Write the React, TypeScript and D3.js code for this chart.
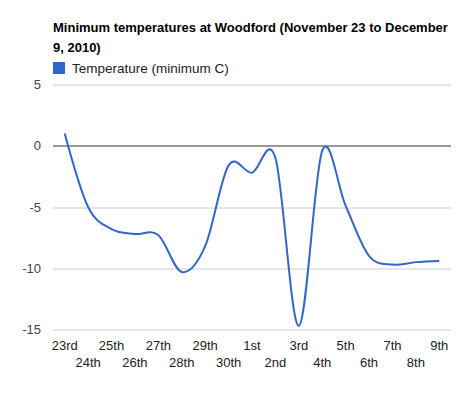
import React, { useEffect, useRef } from "react";
import * as d3 from "d3";

// days from 23 Nov to 9 Dec 2010
const dayLabels: string[] = [
    "23rd", "24th", "25th", "26th", "27th", "28th", "29th", "30th",
    "1st", "2nd", "3rd", "4th", "5th", "6th", "7th", "8th", "9th",
];
const minTemps: number[] = [
    1.0, -5.0, -6.8, -7.2, -7.3, -10.3, -8.2, -1.6,
    -2.2, -1.0, -14.7, -0.4, -4.9, -9.0, -9.7, -9.5, -9.4,
];
const yTicks: number[] = [5, 0, -5, -10, -15];

const titleLines: string[] = [
    "Minimum temperatures at Woodford (November 23 to December",
    "9, 2010)",
];
const seriesName = "Temperature (minimum C)";

const W = 474;
const H = 396;
const FONT = "Arial, 'Liberation Sans', sans-serif";
const BLUE = "#3366cc";

export default function App() {
    const ref = useRef<SVGSVGElement>(null);

    useEffect(() => {
        if (!ref.current) return;
        const svg = d3.select(ref.current);
        svg.selectAll("*").remove();

        const margin = { top: 84.5, right: 23, bottom: 66.5, left: 53 };
        const width = W - margin.left - margin.right;
        const height = H - margin.top - margin.bottom;

        // categories sit in the middle of equal bands
        const xScale = d3.scaleBand<string>().domain(dayLabels).range([0, width]);
        const xc = (d: string) => (xScale(d) as number) + xScale.bandwidth() / 2;

        const yScale = d3.scaleLinear().domain([-15, 5]).range([height, 0]);

        const g = svg.append("g").attr("transform", `translate(${margin.left},${margin.top})`);

        // title
        svg.append("g")
            .selectAll("text")
            .data(titleLines)
            .enter()
            .append("text")
            .attr("x", 53)
            .attr("y", (d, i) => 32 + i * 20)
            .attr("font-family", FONT)
            .attr("font-size", 13)
            .attr("font-weight", "bold")
            .attr("fill", "#000")
            .text(d => d);

        // legend
        svg.append("rect")
            .attr("x", 53)
            .attr("y", 62)
            .attr("width", 12)
            .attr("height", 12)
            .attr("fill", BLUE);
        svg.append("text")
            .attr("x", 72)
            .attr("y", 73)
            .attr("font-family", FONT)
            .attr("font-size", 13.5)
            .attr("fill", "#222")
            .text(seriesName);

        // gridlines
        g.selectAll(".grid")
            .data(yTicks)
            .enter()
            .append("line")
            .attr("x1", 0)
            .attr("x2", width)
            .attr("y1", d => Math.round(yScale(d)) + 0.5)
            .attr("y2", d => Math.round(yScale(d)) + 0.5)
            .attr("stroke", d => (d === 0 ? "#333" : "#ccc"))
            .attr("stroke-width", 1);

        // y labels
        g.selectAll(".ylab")
            .data(yTicks)
            .enter()
            .append("text")
            .attr("x", -12)
            .attr("y", d => yScale(d) + 4.5)
            .attr("text-anchor", "end")
            .attr("font-family", FONT)
            .attr("font-size", 13)
            .attr("fill", "#444")
            .text(d => String(d));

        // x labels, staggered on two rows
        g.selectAll(".xlab")
            .data(dayLabels)
            .enter()
            .append("text")
            .attr("x", d => xc(d))
            .attr("y", (d, i) => height + (i % 2 === 0 ? 20 : 37))
            .attr("text-anchor", "middle")
            .attr("font-family", FONT)
            .attr("font-size", 13)
            .attr("fill", "#222")
            .text(d => d);

        // smoothed line
        const line = d3
            .line<number>()
            .x((d, i) => xc(dayLabels[i]))
            .y(d => yScale(d))
            .curve(d3.curveCardinal.tension(0));

        g.append("path")
            .datum(minTemps)
            .attr("fill", "none")
            .attr("stroke", BLUE)
            .attr("stroke-width", 2)
            .attr("d", line);
    }, []);

    return (
        <svg
            ref={ref}
            width={W}
            height={H}
            style={{ position: "absolute", left: 0, top: 0, background: "#fff" }}
        />
    );
}
